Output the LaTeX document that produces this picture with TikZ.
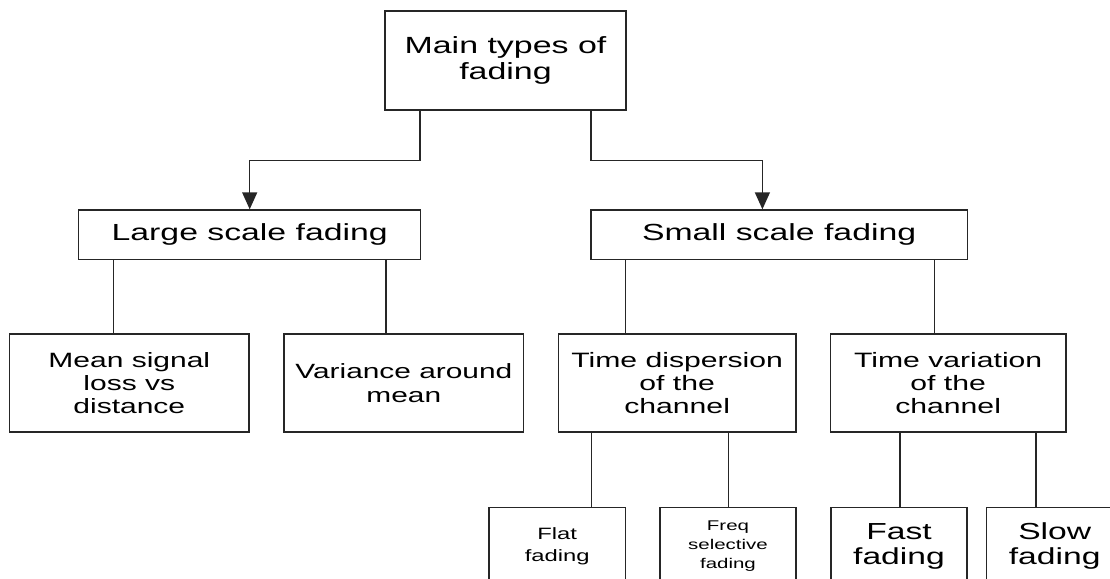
\documentclass[tikz,border=0pt]{standalone}
\usepackage{fontspec}
\setmainfont{Liberation Sans}[FakeStretch=1.45]
\usetikzlibrary{arrows.meta}
\tikzset{
  box/.style={draw=black!85, line width=1.4pt, inner sep=0pt, align=center, fill=white},
  link/.style={draw=black!85, line width=1.4pt},
  arr/.style={-{Triangle[length=17pt,width=15pt]}},
}
\newcommand{\fs}[2]{\fontsize{#1}{#2}\selectfont}
\begin{document}
\begin{tikzpicture}[x={(1pt,0)}, y={(0,-1pt)}]
\useasboundingbox (0,0) rectangle (1110,578);
\clip (0,0) rectangle (1110,578);
\node[box, minimum width=241pt, minimum height=99pt, font=\fs{23.4}{26.7}] (main) at (505.5,60.5) {Main types of\\fading};
\node[box, minimum width=342pt, minimum height=49.3pt, font=\fs{23.3}{26}] (large) at (249.7,234.65) {Large scale fading};
\node[box, minimum width=376.6pt, minimum height=49.3pt, font=\fs{23.3}{26}] (small) at (779.1,234.65) {Small scale fading};
\node[box, minimum width=239.4pt, minimum height=98pt, font=\fs{20.7}{23}] (mean) at (129.3,383) {Mean signal\\loss vs\\distance};
\node[box, minimum width=239.7pt, minimum height=98pt, font=\fs{20.6}{23.3}] (var) at (403.85,383) {Variance around\\mean};
\node[box, minimum width=237.7pt, minimum height=98pt, font=\fs{20.8}{23.3}] (tdisp) at (677.15,383) {Time dispersion\\of the\\channel};
\node[box, minimum width=235.3pt, minimum height=98pt, font=\fs{20.8}{23.3}] (tvar) at (948.15,383) {Time variation\\of the\\channel};
\node[box, minimum width=136.3pt, minimum height=78pt, font=\fs{16.4}{21.6}] (flat) at (557.2,546.3) {Flat\\fading};
\node[box, minimum width=136pt, minimum height=78pt, font=\fs{14.1}{19.2}] (freq) at (728,546.3) {Freq\\selective\\fading};
\node[box, minimum width=136pt, minimum height=78pt, font=\fs{23.2}{25}] (fast) at (899,546.3) {Fast\\fading};
\node[box, minimum width=136pt, minimum height=78pt, font=\fs{23.2}{25}] (slow) at (1054.7,546.3) {Slow\\fading};
% connectors
\draw[link, arr] ([xshift=-85.5pt]main.south) -- ++(0,50) -| (large.north);
\draw[link, arr] ([xshift=85.5pt]main.south) -- ++(0,50) -| ([xshift=-16.7pt]small.north);
\draw[link] ([xshift=-136.4pt]large.south) -- ([xshift=-136.4pt]large.south |- mean.north);
\draw[link] ([xshift=136.3pt]large.south) -- ([xshift=136.3pt]large.south |- var.north);
\draw[link] ([xshift=-153.5pt]small.south) -- ([xshift=-153.5pt]small.south |- tdisp.north);
\draw[link] ([xshift=155.2pt]small.south) -- ([xshift=155.2pt]small.south |- tvar.north);
\draw[link] ([xshift=-85.6pt]tdisp.south) -- ([xshift=-85.6pt]tdisp.south |- flat.north);
\draw[link] ([xshift=51.3pt]tdisp.south) -- ([xshift=51.3pt]tdisp.south |- freq.north);
\draw[link] ([xshift=-48.2pt]tvar.south) -- ([xshift=-48.2pt]tvar.south |- fast.north);
\draw[link] ([xshift=87.8pt]tvar.south) -- ([xshift=87.8pt]tvar.south |- slow.north);
\end{tikzpicture}
\end{document}
